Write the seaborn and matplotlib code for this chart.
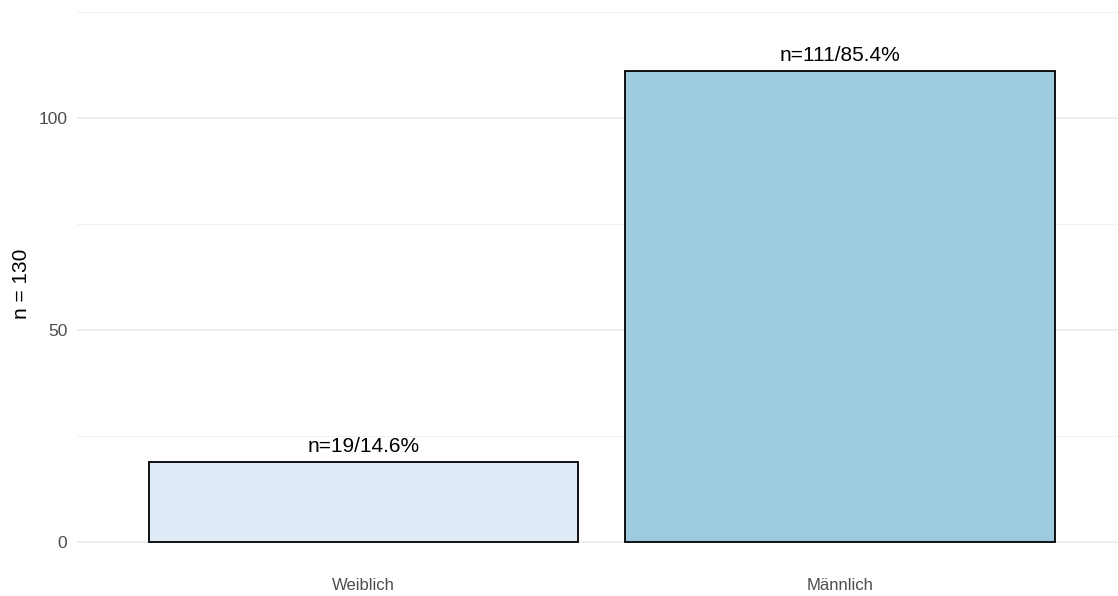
import matplotlib
matplotlib.use("Agg")
import matplotlib.pyplot as plt
import seaborn as sns
import pandas as pd
from matplotlib.ticker import MultipleLocator

# Daten
kategorien = ["Weiblich", "Männlich"]
anzahl = [19, 111]
prozent = [14.6, 85.4]
farben = ["#DEEBF7", "#9ECAE1"]

df = pd.DataFrame({"geschlecht": kategorien, "n": anzahl})

sns.set_theme(style="white")
plt.rcParams['font.family'] = ['Liberation Sans', 'DejaVu Sans']

fig = plt.figure(figsize=(11.18, 5.96), dpi=100)
ax = fig.add_axes([0.069, 0.047, 0.931, 0.953])

sns.barplot(data=df, x="geschlecht", y="n", hue="geschlecht", palette=farben,
            order=kategorien, hue_order=kategorien, width=0.9, dodge=False,
            saturation=1, edgecolor="black", linewidth=1.3, legend=False,
            ax=ax, zorder=3)

for i, (n, p) in enumerate(zip(anzahl, prozent)):
    ax.annotate(f"n={n}/{p}%", (i, n), xytext=(0, 10), textcoords="offset pixels",
                ha="center", va="baseline", fontsize=15, color="black")

ax.set_xlim(-0.6, 1.583)
ax.set_ylim(-6.1, 127.8)
ax.yaxis.set_major_locator(MultipleLocator(50))
ax.yaxis.set_minor_locator(MultipleLocator(25))
ax.grid(True, which="major", axis="y", color="#EBEBEB", linewidth=1.2, zorder=0)
ax.grid(True, which="minor", axis="y", color="#F2F2F2", linewidth=0.8, zorder=0)
ax.set_axisbelow(True)
for s in ax.spines.values():
    s.set_visible(False)
ax.tick_params(axis="both", length=0)
ax.tick_params(axis="y", labelsize=12.5, labelcolor="#4D4D4D", pad=7)
ax.tick_params(axis="x", labelsize=12, labelcolor="#4D4D4D", pad=7)
ax.set_xlabel("")
ax.set_ylabel("n = 130", fontsize=15, color="black")
ax.yaxis.set_label_coords(-0.044, 0.5)

fig.savefig("out.png", dpi=100)
plt.close()
